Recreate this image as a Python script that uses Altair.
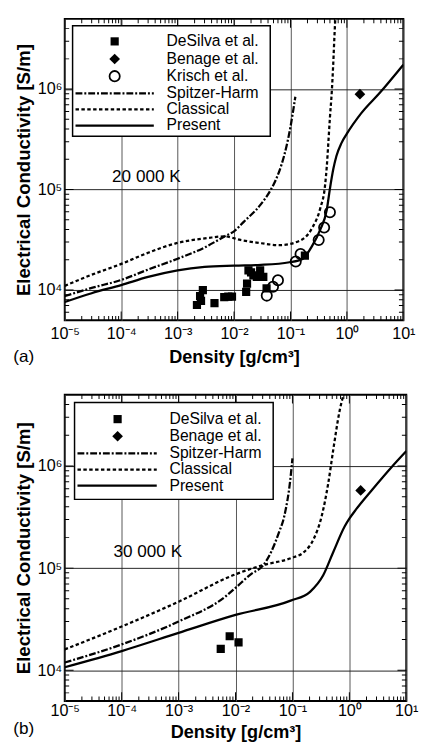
import altair as alt
import pandas as pd

# ---------------- data ----------------
# Panel (a): 20 000 K
a_present_d = [1e-5, 3e-5, 1e-4, 3e-4, 1e-3, 3e-3, 1e-2, 3e-2, 0.096, 0.163, 0.242, 0.337, 0.44, 0.50, 0.574, 0.65, 0.80, 1.0, 1.77, 3.9, 10]
a_present_s = [7.6e3, 9.3e3, 1.12e4, 1.35e4, 1.57e4, 1.70e4, 1.75e4, 1.78e4, 1.89e4, 2.04e4, 2.75e4, 4.0e4, 6.3e4, 1.02e5, 1.6e5, 2.15e5, 2.9e5, 3.6e5, 5.7e5, 9.3e5, 1.75e6]
a_classical_d = [1e-5, 3e-5, 1e-4, 3e-4, 9e-4, 3.5e-3, 6.8e-3, 1.3e-2, 2.5e-2, 6.5e-2, 0.143, 0.242, 0.337, 0.41, 0.44, 0.47, 0.50, 0.54, 0.57, 0.61, 0.64]
a_classical_s = [1.1e4, 1.42e4, 1.82e4, 2.35e4, 2.9e4, 3.3e4, 3.42e4, 3.15e4, 2.97e4, 2.8e4, 3.08e4, 4.15e4, 6.5e4, 1.1e5, 1.7e5, 3.0e5, 5.2e5, 9.5e5, 1.7e6, 4.0e6, 6.5e6]
a_spitzer_d = [1e-5, 3e-5, 1e-4, 3e-4, 1e-3, 3e-3, 6.8e-3, 1e-2, 1.5e-2, 2.9e-2, 4.5e-2, 5.6e-2, 7e-2, 8.5e-2, 0.1, 0.11, 0.122]
a_spitzer_s = [8.7e3, 1.05e4, 1.26e4, 1.6e4, 2.05e4, 2.65e4, 3.42e4, 3.84e4, 4.8e4, 7.0e4, 1.0e5, 1.28e5, 1.8e5, 2.7e5, 4.2e5, 5.8e5, 8.4e5]
a_desilva_d = [0.0022, 0.0025, 0.0028, 0.0026, 0.0045, 0.0067, 0.0079, 0.0092, 0.0164, 0.017, 0.018, 0.020, 0.022, 0.0253, 0.029, 0.033, 0.0377, 0.18]
a_desilva_s = [7.1e3, 8.7e3, 1.0e4, 7.8e3, 7.4e3, 8.5e3, 8.6e3, 8.6e3, 9.6e3, 1.16e4, 1.57e4, 1.5e4, 1.4e4, 1.35e4, 1.57e4, 1.35e4, 1.04e4, 2.2e4]
a_benage_d = [1.7]
a_benage_s = [8.9e5]
a_krisch_d = [0.038, 0.049, 0.060, 0.124, 0.151, 0.316, 0.395, 0.50]
a_krisch_s = [8.8e3, 1.08e4, 1.25e4, 1.92e4, 2.28e4, 3.15e4, 4.2e4, 5.96e4]

# Panel (b): 30 000 K
b_present_d = [1e-5, 1e-4, 1e-3, 1e-2, 0.093, 0.204, 0.347, 0.52, 0.83, 1.0, 1.31, 2.54, 5.6, 10]
b_present_s = [1.07e4, 1.54e4, 2.32e4, 3.48e4, 4.8e4, 5.86e4, 8.5e4, 1.43e5, 2.57e5, 3.05e5, 3.76e5, 5.9e5, 9.86e5, 1.4e6]
b_classical_d = [1e-5, 1e-4, 1e-3, 1e-2, 2.85e-2, 0.093, 0.158, 0.236, 0.327, 0.426, 0.52, 0.676, 0.83]
b_classical_s = [1.6e4, 2.68e4, 4.69e4, 8.7e4, 1.06e5, 1.25e5, 1.43e5, 1.93e5, 3.24e5, 6.8e5, 1.43e6, 3.5e6, 5.5e6]
b_spitzer_d = [1e-5, 1e-4, 1e-3, 6.6e-3, 1e-2, 0.019, 0.0304, 0.042, 0.058, 0.072, 0.093, 0.1]
b_spitzer_s = [1.19e4, 1.79e4, 3.0e4, 5.25e4, 6.4e4, 8.8e4, 1.06e5, 1.43e5, 2.24e5, 3.24e5, 7.9e5, 1.19e6]
b_desilva_d = [0.0055, 0.0079, 0.0113]
b_desilva_s = [1.62e4, 2.15e4, 1.87e4]
b_benage_d = [1.58]
b_benage_s = [5.77e5]

# axis ticks
x_exponents = [-5, -4, -3, -2, -1, 0, 1]
y_exponents = [4, 5, 6]
x_minor = [k * 10.0 ** e for e in range(-5, 1) for k in range(2, 10)]
y_minor = ([k * 1e3 for k in range(6, 10)] + [k * 1e4 for k in range(2, 10)]
           + [k * 1e5 for k in range(2, 10)] + [k * 1e6 for k in range(2, 5)])
x_domain = [1e-5, 10]
y_domain = [5e3, 5e6]

FONT = "Liberation Sans"
SUP = str.maketrans("-0123456789", "⁻⁰¹²³⁴⁵⁶⁷⁸⁹")


def label_expr(exps):
    expr = "''"
    for e in reversed(exps):
        expr = f"round(log(datum.value)/LN10) == {e} ? '10{str(e).translate(SUP)}' : ({expr})"
    return expr


def panel(W, H, cur, pts, temp_text, temp_pos, letter, leg, lab_pad, title_pad, letter_dy):
    x_major = [10.0 ** e for e in x_exponents]
    y_major = [10.0 ** e for e in y_exponents]
    xscale = alt.Scale(type="log", domain=x_domain, nice=False)
    yscale = alt.Scale(type="log", domain=y_domain, nice=False)
    xenc = alt.X("d:Q", scale=xscale, axis=alt.Axis(
        values=x_major, labelExpr=label_expr(x_exponents), grid=True, gridColor="#555",
        gridWidth=1, ticks=False, domain=False, labelFont=FONT, labelFontSize=16.5,
        labelColor="black", labelPadding=lab_pad, labelFlush=False, labelOverlap=False,
        labelBound=False, title="Density [g/cm³]", titleFont=FONT, titleFontSize=18.5,
        titleFontWeight="bold", titleColor="black", titlePadding=title_pad))
    yenc = alt.Y("s:Q", scale=yscale, axis=alt.Axis(
        values=y_major, labelExpr=label_expr(y_exponents), grid=True, gridColor="#222",
        gridWidth=1, ticks=False, domain=False, labelFont=FONT, labelFontSize=16.5,
        labelColor="black", labelPadding=3, labelFlush=False, labelOverlap=False,
        title="Electrical Conductivity [S/m]", titleFont=FONT, titleFontSize=19,
        titleFontWeight="bold", titleColor="black", titlePadding=4))

    layers = []
    dashes = {"Spitzer-Harm": [7, 2, 2, 2], "Classical": [3.5, 2.5], "Present": []}
    for name, (dd, ss) in cur.items():
        df = pd.DataFrame({"d": dd, "s": ss})
        mk = alt.Chart(df).mark_line(color="black", strokeWidth=2.3, clip=True,
                                     interpolate="monotone",
                                     **({"strokeDash": dashes[name]} if dashes[name] else {}))
        layers.append(mk.encode(x=xenc, y=yenc))

    styles = {
        "DeSilva et al.": dict(shape="square", filled=True, size=70, color="black", opacity=1),
        "Benage et al.": dict(shape="diamond", filled=True, size=120, color="black", opacity=1),
        "Krisch et al.": dict(shape="circle", filled=False, size=110, color="black",
                              strokeWidth=1.8, opacity=1),
    }
    for name, (dd, ss) in pts.items():
        df = pd.DataFrame({"d": dd, "s": ss})
        layers.append(alt.Chart(df).mark_point(clip=True, **styles[name]).encode(x=xenc, y=yenc))

    # temperature label
    tdf = pd.DataFrame({"d": [temp_pos[0]], "s": [temp_pos[1]], "t": [temp_text]})
    layers.append(alt.Chart(tdf).mark_text(align="left", baseline="middle", font=FONT,
                                           fontSize=17.5, color="black")
                  .encode(x=xenc, y=yenc, text="t:N"))

    # inward ticks on all four sides
    xt = pd.DataFrame({"d": x_major + x_minor,
                       "len": [18] * len(x_major) + [9] * len(x_minor)})
    yt = pd.DataFrame({"s": y_major + y_minor,
                       "len": [18] * len(y_major) + [9] * len(y_minor)})
    sz = alt.Size("len:Q", scale=None, legend=None)
    for yv in (H, 0):
        layers.append(alt.Chart(xt).mark_tick(orient="vertical", clip=True, color="black",
                                              thickness=1, opacity=1)
                      .encode(x=xenc, y=alt.value(yv), size=sz))
    for xv in (0, W):
        layers.append(alt.Chart(yt).mark_tick(orient="horizontal", clip=True, color="black",
                                              thickness=1, opacity=1)
                      .encode(y=yenc, x=alt.value(xv), size=sz))

    # legend (drawn by hand, inside the plot)
    one = pd.DataFrame({"k": [0]})
    layers.append(alt.Chart(one).mark_rect(fill="white", stroke="black", strokeWidth=1.5)
                  .encode(x=alt.value(leg["box"][0]), x2=alt.value(leg["box"][1]),
                          y=alt.value(leg["box"][2]), y2=alt.value(leg["box"][3])))
    for i, name in enumerate(leg["names"]):
        ry = leg["rows"][i]
        if name in styles:
            layers.append(alt.Chart(one).mark_point(**styles[name])
                          .encode(x=alt.value(leg["sym"]), y=alt.value(ry)))
        else:
            kw = {"strokeDash": dashes[name]} if dashes[name] else {}
            layers.append(alt.Chart(one).mark_rule(color="black", strokeWidth=2.3, **kw)
                          .encode(x=alt.value(leg["line"][0]), x2=alt.value(leg["line"][1]),
                                  y=alt.value(ry)))
        layers.append(alt.Chart(one).mark_text(align="left", baseline="middle", font=FONT,
                                               fontSize=16, color="black", text=name)
                      .encode(x=alt.value(leg["text"]), y=alt.value(ry)))

    # panel letter
    layers.append(alt.Chart(one).mark_text(align="center", baseline="middle", font=FONT,
                                           fontSize=17.5, color="black", text=letter)
                  .encode(x=alt.value(-42), y=alt.value(H + letter_dy)))

    return alt.layer(*layers).properties(width=W, height=H)


pa = panel(
    346, 308,
    {"Spitzer-Harm": (a_spitzer_d, a_spitzer_s),
     "Classical": (a_classical_d, a_classical_s),
     "Present": (a_present_d, a_present_s)},
    {"DeSilva et al.": (a_desilva_d, a_desilva_s),
     "Benage et al.": (a_benage_d, a_benage_s),
     "Krisch et al.": (a_krisch_d, a_krisch_s)},
    "20 000 K", (6.9e-5, 1.32e5), "(a)",
    {"box": (8, 210, 7, 120), "rows": [23, 41, 58.5, 76, 92.5, 109],
     "names": ["DeSilva et al.", "Benage et al.", "Krisch et al.", "Spitzer-Harm",
               "Classical", "Present"],
     "sym": 51, "line": (11, 91), "text": 104},
    6, 6, 38)

pb = panel(
    349, 313,
    {"Spitzer-Harm": (b_spitzer_d, b_spitzer_s),
     "Classical": (b_classical_d, b_classical_s),
     "Present": (b_present_d, b_present_s)},
    {"DeSilva et al.": (b_desilva_d, b_desilva_s),
     "Benage et al.": (b_benage_d, b_benage_s)},
    "30 000 K", (7.2e-5, 1.44e5), "(b)",
    {"box": (10, 213, 8, 107), "rows": [25, 42.5, 60, 76.5, 93],
     "names": ["DeSilva et al.", "Benage et al.", "Spitzer-Harm", "Classical", "Present"],
     "sym": 54, "line": (13, 94), "text": 107},
    2, 4, 29)

chart = alt.vconcat(pa, pb, spacing=27).properties(
    padding={"left": 4, "top": 2, "right": 0, "bottom": 0}
).configure_view(stroke="black", strokeWidth=2)

chart.save("out.html", embed_options={"renderer": "svg", "actions": False})
